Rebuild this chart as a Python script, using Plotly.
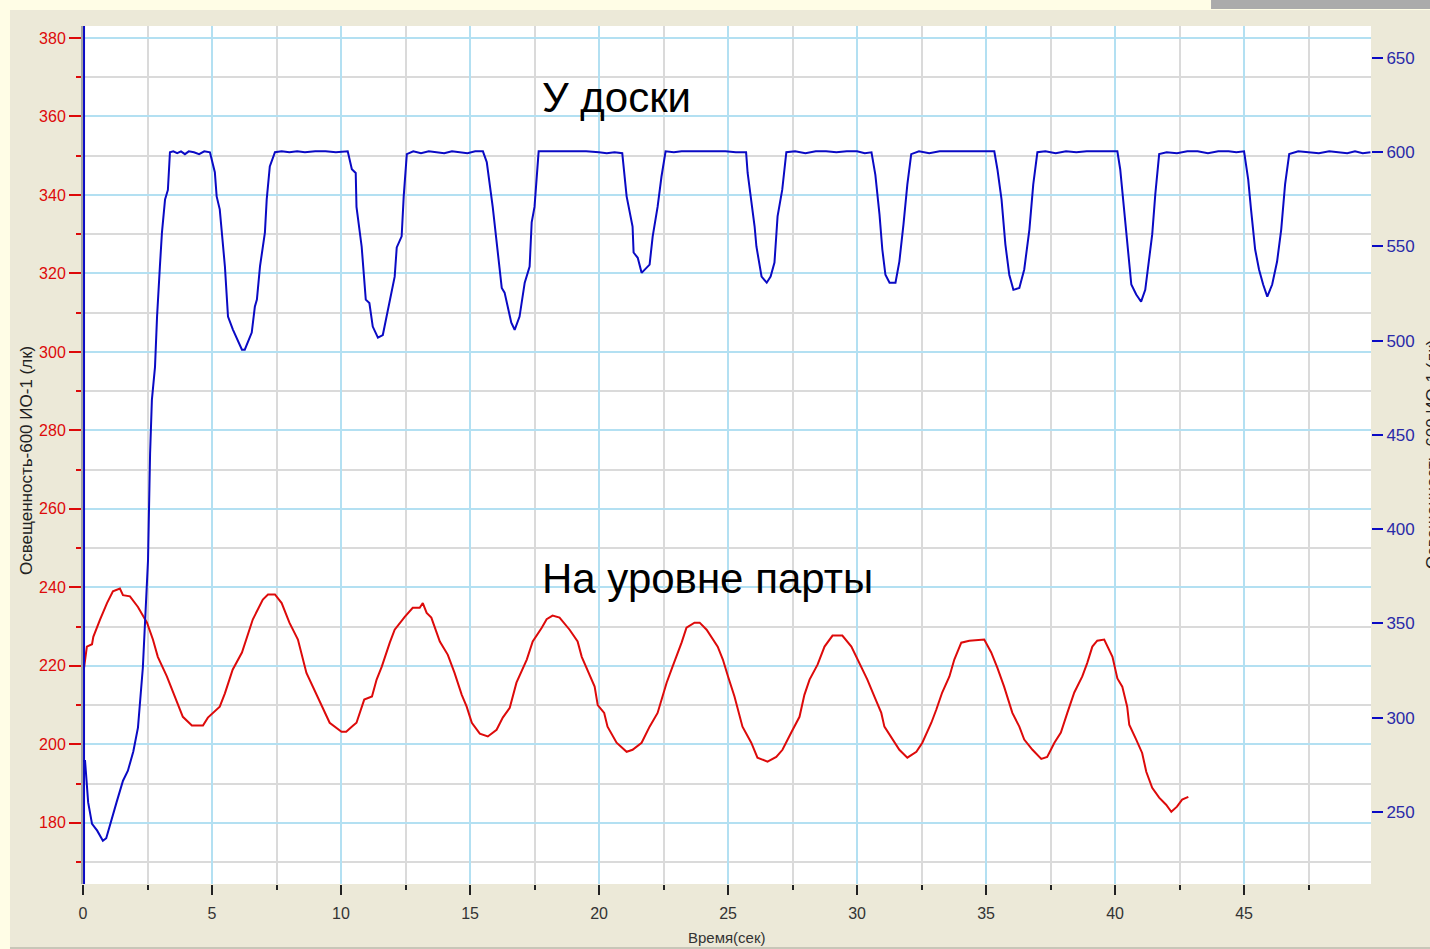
import plotly.graph_objects as go

# ---- data ----
blue_t = [0.0, 0.08, 0.2, 0.35, 0.55, 0.77, 0.9, 1.05, 1.3, 1.55, 1.74, 1.95, 2.13, 2.32, 2.45, 2.52,
          2.6, 2.67, 2.79, 2.87, 2.98, 3.06, 3.18, 3.29, 3.37, 3.5, 3.65, 3.8, 3.95, 4.1, 4.3, 4.5, 4.7, 4.92,
          5.11, 5.18, 5.3, 5.5, 5.62, 5.81, 6.16, 6.27, 6.54, 6.66, 6.74, 6.86, 7.05, 7.12, 7.24, 7.44,
          7.7, 8.0, 8.3, 8.6, 9.0, 9.4, 9.8, 10.1, 10.26,
          10.42, 10.57, 10.6, 10.8, 10.96, 11.1, 11.23, 11.43, 11.62, 11.82, 12.08, 12.16, 12.35, 12.43, 12.55,
          12.8, 13.1, 13.4, 13.7, 14.0, 14.3, 14.6, 14.9, 15.2, 15.5,
          15.65, 15.88, 16.23, 16.34, 16.6, 16.73, 16.92, 17.12, 17.31, 17.39, 17.5, 17.66,
          18.0, 18.5, 19.0, 19.5, 20.0, 20.3, 20.6, 20.9,
          21.07, 21.3, 21.34, 21.5, 21.65, 21.96, 22.08, 22.27, 22.42, 22.58,
          22.9, 23.2, 23.5, 23.9, 24.4, 24.9, 25.3, 25.7,
          25.76, 26.03, 26.1, 26.2, 26.3, 26.5, 26.65, 26.8, 26.92, 27.1, 27.26,
          27.6, 28.0, 28.4, 28.8, 29.2, 29.6, 30.0, 30.3, 30.56,
          30.71, 30.87, 30.98, 31.1, 31.26, 31.49, 31.64, 31.8, 31.95, 32.1,
          32.4, 32.8, 33.2, 33.6, 34.0, 34.4, 34.8, 35.1, 35.32,
          35.44, 35.6, 35.75, 35.9, 36.06, 36.29, 36.48, 36.68, 36.83, 36.99,
          37.3, 37.7, 38.1, 38.5, 38.9, 39.3, 39.7, 40.09,
          40.2, 40.36, 40.51, 40.63, 40.82, 41.01, 41.17, 41.32, 41.44, 41.56, 41.71,
          42.0, 42.4, 42.8, 43.2, 43.6, 44.0, 44.4, 44.7, 45.0,
          45.16, 45.27, 45.43, 45.58, 45.74, 45.9, 46.09, 46.28, 46.44, 46.59, 46.75,
          47.1, 47.5, 47.9, 48.3, 48.7, 49.0, 49.3, 49.6, 49.9]
blue_v = [277, 277, 255, 243.6, 240, 234.6, 236, 243.6, 255, 266.5, 271.8, 282, 294.7, 326.6, 360, 383.5,
          440, 468.6, 486, 512.8, 539.4, 557.4, 575, 580, 600, 600.5, 599.5, 600.5, 599, 600.5, 600, 599, 600.5, 600,
          589.4, 576.6, 569.7, 539.4, 512.8, 505.9, 495.2, 495.2, 504.3, 518, 521.8, 539.4, 557.4, 575, 592.5, 600,
          600.5, 600, 600.5, 600, 600.5, 600.5, 600, 600.5, 600.5,
          591, 589, 571, 550, 521.8, 520, 507.5, 501.6, 503, 516.5, 534, 549.5, 555.4, 576.6, 599,
          600.5, 599.5, 600.5, 600, 599.5, 600.5, 600, 599.5, 600.5, 600.5,
          594.7, 571, 528, 525.5, 509.6, 505.8, 512.8, 530.8, 539.4, 562.8, 571, 600.5,
          600.5, 600.5, 600.5, 600.5, 600, 599.5, 600, 599.5,
          576.6, 560.6, 546.8, 544, 536, 540.4, 555.4, 571, 587, 600.5,
          600, 600.5, 600.5, 600.5, 600.5, 600.5, 600, 600,
          589, 560.6, 550, 541.5, 534, 530.8, 534, 541.5, 566, 580, 600,
          600.5, 599.5, 600.5, 600.5, 600, 600.5, 600.5, 599.5, 600,
          588, 567, 548.4, 535, 530.8, 530.8, 542, 561.7, 583, 599,
          600.5, 599.5, 600.5, 600.5, 600.5, 600.5, 600.5, 600.5, 600.5,
          591, 575, 551, 535, 527, 528, 537.8, 559, 583, 600,
          600.5, 599.5, 600.5, 600, 600.5, 600.5, 600.5, 600.5,
          591, 567, 548.4, 529.8, 524.5, 520.7, 527, 542, 556.4, 577.7, 599,
          600, 599.5, 600.5, 600.5, 599.5, 600.5, 600.5, 600, 600.5,
          585.6, 569.7, 548.4, 537.8, 529.8, 523.4, 529.8, 542, 559, 583, 599,
          600.5, 600, 599.5, 600.5, 600, 599.5, 600.5, 599.5, 600]

red_t = [0.03, 0.08, 0.15, 0.35, 0.4, 0.66, 0.93, 1.16, 1.43, 1.55, 1.82, 2.13, 2.48, 2.71, 2.9, 3.25,
         3.56, 3.87, 4.22, 4.65, 4.84, 5.3, 5.5, 5.8, 6.16, 6.58, 6.97, 7.17, 7.44, 7.7, 8.0, 8.33, 8.66,
         9.1, 9.56, 10.02, 10.2, 10.46, 10.6, 10.9, 11.2, 11.38, 11.58, 11.89, 12.08, 12.47, 12.78, 13.05,
         13.17, 13.32, 13.5, 13.83, 14.14, 14.4, 14.68, 14.87, 15.07, 15.38, 15.69, 16.03, 16.27, 16.54,
         16.8, 17.2, 17.43, 17.78, 17.97, 18.2, 18.47, 18.86, 19.17, 19.33, 19.56, 19.83, 19.95, 20.2,
         20.33, 20.68, 21.07, 21.3, 21.65, 21.96, 22.27, 22.42, 22.62, 22.85, 23.0, 23.2, 23.39, 23.7,
         23.9, 24.17, 24.6, 24.8, 25.0, 25.25, 25.56, 25.9, 26.14, 26.53, 26.87, 27.11, 27.45, 27.77,
         27.96, 28.16, 28.47, 28.74, 29.05, 29.43, 29.78, 30.02, 30.2, 30.4, 30.67, 30.94, 31.06, 31.37,
         31.64, 31.95, 32.3, 32.53, 32.88, 33.07, 33.3, 33.58, 33.77, 34.04, 34.35, 34.93, 35.2, 35.44,
         35.7, 36.02, 36.29, 36.48, 36.8, 37.14, 37.37, 37.65, 37.9, 38.15, 38.42, 38.73, 38.92, 39.12,
         39.31, 39.58, 39.9, 40.09, 40.28, 40.47, 40.55, 40.82, 41.05, 41.21, 41.44, 41.71, 41.98, 42.18,
         42.4, 42.6, 42.84]
red_v = [219.0, 221.6, 224.9, 225.5, 227.4, 231.8, 236.0, 239.0, 239.7, 238.0, 237.7, 235.0, 231.0, 226.7,
         222.3, 217.3, 212.2, 207.0, 204.8, 204.8, 206.8, 209.6, 213.0, 219.0, 223.4, 231.8, 236.9, 238.2,
         238.2, 236.0, 231.0, 226.7, 218.2, 212.0, 205.5, 203.2, 203.2, 204.7, 205.5, 211.4, 212.2, 216.5,
         219.8, 225.9, 229.2, 232.5, 234.8, 234.8, 236.0, 233.5, 232.3, 226.2, 222.8, 218.2, 212.6, 209.6,
         205.5, 202.7, 202.0, 203.7, 206.8, 209.3, 215.7, 221.6, 226.2, 229.7, 231.9, 232.8, 232.3, 229.2,
         226.2, 222.3, 219.0, 214.7, 210.0, 208.0, 204.5, 200.4, 198.1, 198.6, 200.4, 204.5, 208.0, 211.4,
         215.7, 219.8, 222.3, 225.9, 229.7, 231.0, 231.0, 229.2, 224.9, 221.6, 217.3, 212.2, 204.5, 200.4,
         196.6, 195.6, 196.8, 198.6, 203.0, 207.0, 212.6, 216.5, 220.3, 224.9, 227.7, 227.7, 224.9, 221.6,
         219.5, 216.5, 212.2, 208.0, 204.5, 201.2, 198.6, 196.6, 198.1, 200.4, 205.5, 208.8, 213.2, 217.3,
         221.6, 225.9, 226.4, 226.7, 223.4, 219.5, 214.7, 208.0, 204.5, 201.2, 198.6, 196.3, 196.8, 200.4,
         203.0, 208.0, 213.2, 217.3, 220.7, 224.9, 226.4, 226.7, 222.3, 216.8, 214.7, 209.6, 205.0, 201.2,
         197.8, 193.0, 188.9, 186.4, 184.6, 182.8, 184.1, 185.9, 186.6]

x_ticks = [0, 5, 10, 15, 20, 25, 30, 35, 40, 45]
left_ticks = [180, 200, 220, 240, 260, 280, 300, 320, 340, 360, 380]
right_ticks = [250, 300, 350, 400, 450, 500, 550, 600, 650]

label_top = "У доски"
label_bottom = "На уровне парты"
y_title = "Освещенность-600 ИО-1 (лк)"
x_title = "Время(сек)"

# ---- styles ----
BLUE = "#0a0ac4"
RED = "#dd0a0a"
GRID_BLUE = "#b3e0f2"
GRID_GRAY = "#dadada"
BEIGE = "#ece9d8"
YELLOW = "#fffde6"
FONT = "Liberation Sans"

fig = go.Figure()
fig.add_trace(go.Scatter(x=red_t, y=red_v, mode="lines", line=dict(color=RED, width=2),
                         yaxis="y", showlegend=False, hoverinfo="skip"))
fig.add_trace(go.Scatter(x=blue_t, y=blue_v, mode="lines", line=dict(color=BLUE, width=2),
                         yaxis="y2", showlegend=False, hoverinfo="skip"))

fig.update_layout(
    width=1430, height=949,
    margin=dict(l=83, r=59, t=26, b=65),
    paper_bgcolor=BEIGE, plot_bgcolor="white",
    font=dict(family=FONT, size=15, color="#333"),
    xaxis=dict(range=[0, 49.92], tickvals=x_ticks, ticks="outside", ticklen=10, tickwidth=2,
               tickcolor="#222", showgrid=True, gridcolor=GRID_BLUE, gridwidth=2, zeroline=False,
               tickfont=dict(size=16, color="#333"), showline=False, ticklabelstandoff=5,
               minor=dict(dtick=2.5, tick0=0, ticks="outside", ticklen=5, tickwidth=2, tickcolor="#222",
                          showgrid=True, gridcolor=GRID_GRAY, gridwidth=2)),
    yaxis=dict(range=[164.4, 383.06], tickvals=left_ticks, ticks="outside", ticklen=12, tickwidth=2,
               tickcolor=RED, tickfont=dict(size=16, color=RED), showgrid=True, gridcolor=GRID_BLUE,
               gridwidth=2, zeroline=False, showline=True, linecolor="#a4a4a4", linewidth=2,
               minor=dict(dtick=10, tick0=0, ticks="outside", ticklen=5, tickwidth=2, tickcolor=RED,
                          showgrid=True, gridcolor=GRID_GRAY, gridwidth=2)),
    yaxis2=dict(range=[211.7, 667], tickvals=right_ticks, overlaying="y", side="right", ticks="outside",
                ticklen=11, tickwidth=2, tickcolor=BLUE, tickfont=dict(size=17, color="#2a2aa8"),
                showgrid=False, zeroline=False, showline=False),
)

# cursor line at the start of the record
fig.add_shape(type="line", xref="x", yref="paper", x0=0.04, x1=0.04, y0=0, y1=1,
              line=dict(color=BLUE, width=2))

# page frame pieces outside the plot area
fig.add_shape(type="rect", xref="paper", yref="paper", x0=-0.07, x1=-0.0567, y0=-0.08, y1=1.04,
              fillcolor=YELLOW, line=dict(width=0), layer="above")
fig.add_shape(type="rect", xref="paper", yref="paper", x0=-0.07, x1=1.06, y0=1.0186, y1=1.04,
              fillcolor=YELLOW, line=dict(width=0), layer="above")
fig.add_shape(type="rect", xref="paper", yref="paper", x0=0.8758, x1=1.06, y0=1.0198, y1=1.04,
              fillcolor="#ababab", line=dict(width=0), layer="above")
fig.add_shape(type="rect", xref="paper", yref="paper", x0=-0.0567, x1=1.06, y0=-0.08, y1=-0.0735,
              fillcolor="#c8c6b8", line=dict(width=0), layer="above")

fig.add_annotation(text=label_top, xref="x", x=17.7, xanchor="left", yref="paper", y=0.917,
                   yanchor="middle", showarrow=False, font=dict(family=FONT, size=42, color="black"))
fig.add_annotation(text=label_bottom, xref="x", x=17.7, xanchor="left", yref="paper", y=0.3566,
                   yanchor="middle", showarrow=False, font=dict(family=FONT, size=42, color="black"))
fig.add_annotation(text=y_title, xref="paper", x=-0.0443, xanchor="center", yref="paper", y=0.494,
                   yanchor="middle", textangle=-90, showarrow=False,
                   font=dict(family=FONT, size=17, color="#222"))
fig.add_annotation(text=y_title, xref="paper", x=1.0474, xanchor="center", yref="paper", y=0.5,
                   yanchor="middle", textangle=-90, showarrow=False,
                   font=dict(family=FONT, size=17, color="#222"))
fig.add_annotation(text=x_title, xref="paper", x=0.5, yref="paper", y=-0.0629, yanchor="middle",
                   showarrow=False, font=dict(family=FONT, size=15, color="#333"))

fig.write_html("out.html", config={"displayModeBar": False})

# remove the default page margin so the figure fills the window exactly
with open("out.html", encoding="utf-8") as f:
    html = f.read()
html = html.replace("<head>", "<head><style>html,body{margin:0;padding:0;overflow:hidden;}</style>", 1)
with open("out.html", "w", encoding="utf-8") as f:
    f.write(html)
